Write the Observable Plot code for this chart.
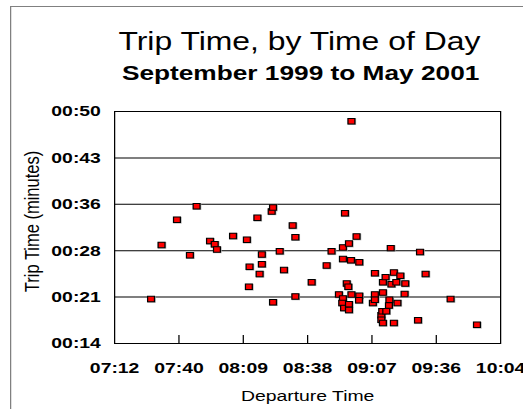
<!DOCTYPE html>
<html>
<head>
<meta charset="utf-8">
<script src="https://cdn.jsdelivr.net/npm/d3@7"></script>
<script src="https://cdn.jsdelivr.net/npm/@observablehq/plot@0.6"></script>
<style>
  html, body { margin: 0; padding: 0; background: #fff; overflow: hidden; width: 523px; height: 409px; }
  #wrap { position: absolute; left: 0; top: 0; width: 420px; height: 409px;
          transform: scaleX(1.25); transform-origin: 0 0;
          font-family: "Liberation Sans", Arial, sans-serif; color: #000; }
  #frame { position: absolute; left: 8px; top: 6px; width: 600px; height: 600px;
           border-left: 1.5px solid #808080; border-top: 1.5px solid #808080; }
  #title { position: absolute; left: 0; width: 479px; top: 28.5px; text-align: center;
           font-size: 25.5px; line-height: 25.5px; white-space: nowrap; }
  #subtitle { position: absolute; left: 0; width: 481px; top: 62px; text-align: center;
              font-size: 21px; line-height: 21px; font-weight: bold; white-space: nowrap; }
  #plot { position: absolute; left: 0; top: 95px; }
</style>
</head>
<body>
<div id="wrap">
  <div id="frame"></div>
  <div id="title">Trip Time, by Time of Day</div>
  <div id="subtitle">September 1999 to May 2001</div>
  <div id="plot"></div>
</div>
<script>
// Departure time (minutes after midnight) and trip time (minutes)
const departure = [448.3, 453.0, 459.9, 465.7, 468.7, 474.7, 476.8, 477.8, 485.0, 491.2,
  492.1, 492.4, 495.9, 496.9, 497.9, 497.9, 502.3, 502.9, 502.9, 505.9,
  507.8, 511.7, 512.9, 512.9, 520.2, 526.9, 529.1, 532.4, 534.2, 534.2,
  534.2, 533.9, 534.7, 535.1, 535.9, 536.6, 536.9, 536.9, 536.9, 537.8,
  538.0, 538.0, 540.3, 541.5, 541.5, 541.4, 547.6, 548.5, 548.5, 548.5,
  551.4, 551.4, 551.8, 552.1, 552.1, 552.1, 553.3, 553.6, 554.8, 555.0,
  555.6, 555.9, 557.0, 557.0, 558.1, 558.6, 559.9, 561.8, 562.1, 567.8,
  568.7, 571.2, 582.4, 594.2];
const trip = [21.3, 29.7, 33.6, 28.1, 35.7, 30.3, 29.8, 29.0, 31.1, 30.5,
  23.2, 26.3, 33.9, 25.2, 28.2, 26.7, 34.9, 35.5, 20.8, 28.7,
  25.8, 32.7, 30.9, 21.7, 23.9, 26.5, 28.7, 22.0, 29.3, 27.5,
  21.4, 20.7, 19.9, 34.6, 23.7, 23.2, 29.9, 20.5, 19.6, 27.3,
  22.0, 48.9, 31.0, 27.0, 21.8, 21.1, 20.7, 25.3, 22.0, 21.2,
  18.8, 18.1, 19.4, 23.9, 22.3, 17.6, 24.7, 19.4, 20.3, 21.2,
  29.2, 23.6, 25.4, 17.6, 23.9, 20.7, 24.9, 22.1, 23.7, 18.0,
  28.6, 25.2, 21.3, 17.3];

// Axis ticks
const xTickValues = [432, 460.8, 489.6, 518.4, 547.2, 576, 604.8];
const xTickLabels = ["07:12", "07:40", "08:09", "08:38", "09:07", "09:36", "10:04"];
const yTickValues = [14.4, 21.6, 28.8, 36, 43.2, 50.4];
const yTickLabels = ["00:14", "00:21", "00:28", "00:36", "00:43", "00:50"];

const xTitle = "Departure Time";
const yTitle = "Trip Time (minutes)";

const points = departure.map((d, i) => ({departure: d, trip: trip[i]}));

const chart = Plot.plot({
  width: 420,
  height: 314,
  marginLeft: 91.2,
  marginRight: 20,
  marginTop: 16,
  marginBottom: 66,
  style: {fontFamily: "'Liberation Sans', Arial, sans-serif", background: "transparent", overflow: "visible", color: "#000"},
  x: {domain: [xTickValues[0], xTickValues[xTickValues.length - 1]]},
  y: {domain: [yTickValues[0], yTickValues[yTickValues.length - 1]]},
  marks: [
    Plot.gridY(yTickValues.slice(1, -1), {stroke: "#000", strokeOpacity: 1, strokeWidth: 1}),
    Plot.ruleX(xTickValues.slice(1, -1), {stroke: "#000", insetTop: 224}),
    Plot.frame({stroke: "#000", strokeWidth: 1}),
    Plot.axisX(xTickValues, {tickSize: 0, tickPadding: 18, fontSize: 15.5, fontWeight: "bold",
      tickFormat: (d) => xTickLabels[xTickValues.indexOf(d)], label: null}),
    Plot.axisY(yTickValues, {tickSize: 0, tickPadding: 11, fontSize: 15.5, fontWeight: "bold",
      tickFormat: (d) => yTickLabels[yTickValues.indexOf(d)], label: null}),
    Plot.text([xTitle], {frameAnchor: "bottom", dy: 57, fontSize: 15.5, textAnchor: "middle", text: d => d}),
    Plot.text([yTitle], {frameAnchor: "left", rotate: -90, textAnchor: "middle", dx: -66, dy: -6, fontSize: 16.5, text: d => d}),
    Plot.dot(points, {x: "departure", y: "trip", symbol: "square", r: 3.8, fill: "#a8a8a8", dx: 0.4, dy: 0.4}),
    Plot.dot(points, {x: "departure", y: "trip", symbol: "square", r: 3.1, fill: "#ff0000", stroke: "#000", strokeWidth: 1})
  ]
});
document.getElementById("plot").appendChild(chart);
</script>
</body>
</html>
